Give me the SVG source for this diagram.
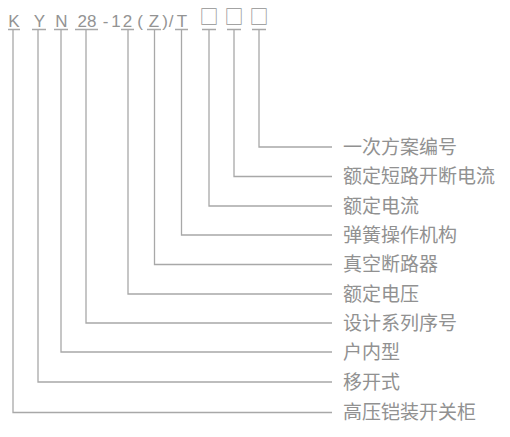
<svg xmlns="http://www.w3.org/2000/svg" width="510" height="437" viewBox="0 0 510 437">
<style>
.code{font-family:"Liberation Sans","Noto Sans",sans-serif;font-size:17px;fill:#939393;text-anchor:middle}
.box{font-family:"Noto Sans CJK SC",sans-serif;font-size:19px;fill:#939393;text-anchor:middle}
.lbl{font-family:"Noto Sans CJK SC","Noto Sans",sans-serif;font-size:19px;fill:#919191}
.ln{fill:none;stroke:#a8a8a8;stroke-width:1.3}
</style>
<rect width="510" height="437" fill="#ffffff"/>
<g id="code">
<text class="code" x="14" y="27">K</text>
<text class="code" x="39.5" y="27">Y</text>
<text class="code" x="61.5" y="27">N</text>
<text class="code" x="87" y="27">28</text>
<text class="code" x="105.5" y="27">-</text>
<text class="code" x="116" y="27">1</text>
<text class="code" x="127.5" y="27">2</text>
<text class="code" x="140" y="27">(</text>
<text class="code" x="154" y="27">Z</text>
<text class="code" x="165" y="27">)</text>
<text class="code" x="171" y="27">/</text>
<text class="code" x="182" y="27">T</text>
<text class="box" x="209" y="23.5">□</text>
<text class="box" x="234" y="23.5">□</text>
<text class="box" x="259" y="23.5">□</text>
</g>
<g id="connectors">
<path class="ln" d="M8 29.5H20M32 29.5H46M54 29.5H68M75 29.5H98M121 29.5H134M147 29.5H161M175 29.5H188M202 29.5H216M227 29.5H241M252 29.5H266"/>
<path class="ln" d="M259 29.5V147H332"/>
<path class="ln" d="M234 29.5V176.5H332"/>
<path class="ln" d="M209 29.5V206H332"/>
<path class="ln" d="M181.5 29.5V235H332"/>
<path class="ln" d="M154.5 29.5V264.5H332"/>
<path class="ln" d="M128 29.5V294H332"/>
<path class="ln" d="M86 29.5V323H332"/>
<path class="ln" d="M61 29.5V352H332"/>
<path class="ln" d="M38 29.5V382H332"/>
<path class="ln" d="M13 29.5V412.5H332"/>
</g>
<g id="n1"><text class="lbl" x="343" y="153.5">一次方案编号</text></g>
<g id="n2"><text class="lbl" x="343" y="183">额定短路开断电流</text></g>
<g id="n3"><text class="lbl" x="343" y="212.5">额定电流</text></g>
<g id="n4"><text class="lbl" x="343" y="241.5">弹簧操作机构</text></g>
<g id="n5"><text class="lbl" x="343" y="271">真空断路器</text></g>
<g id="n6"><text class="lbl" x="343" y="300.5">额定电压</text></g>
<g id="n7"><text class="lbl" x="343" y="329.5">设计系列序号</text></g>
<g id="n8"><text class="lbl" x="343" y="358.5">户内型</text></g>
<g id="n9"><text class="lbl" x="343" y="388.5">移开式</text></g>
<g id="n10"><text class="lbl" x="343" y="419">高压铠装开关柜</text></g>
</svg>
